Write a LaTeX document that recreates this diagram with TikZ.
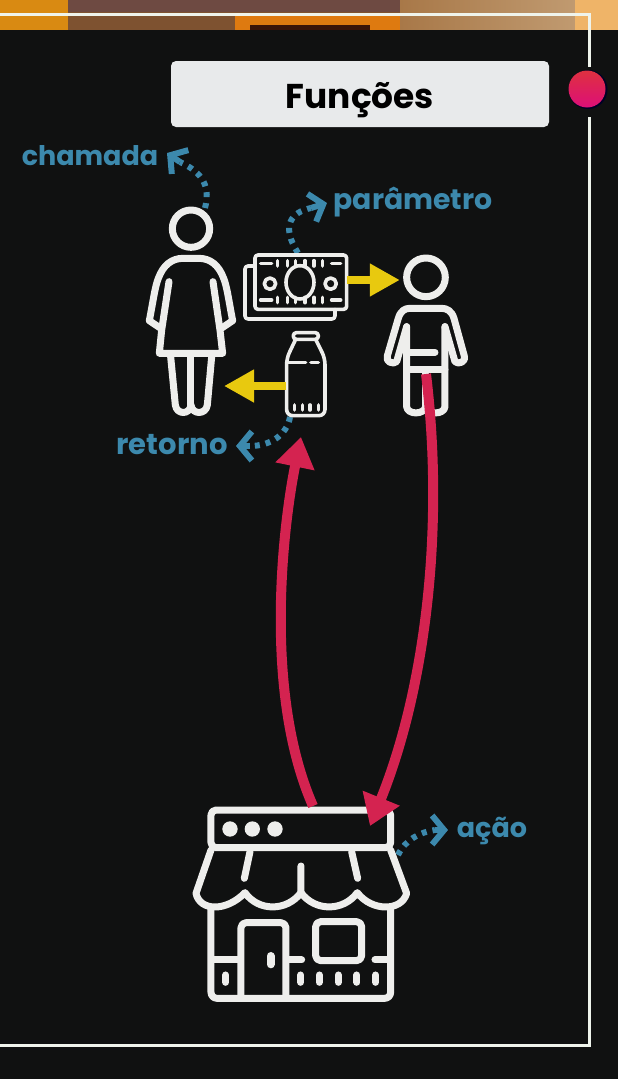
\documentclass[tikz,border=0pt]{standalone}
\usepackage{fontspec}
\setmainfont{Poppins}
\usetikzlibrary{arrows.meta}
\definecolor{bgk}{HTML}{101111}
\definecolor{iconw}{HTML}{EEEEEC}
\definecolor{framew}{HTML}{EFF4EC}
\definecolor{teal}{HTML}{3C89AD}
\definecolor{yel}{HTML}{E8C90F}
\definecolor{crim}{HTML}{D42350}
\definecolor{boxw}{HTML}{E8EAEB}
\definecolor{redtop}{HTML}{DF3040}
\definecolor{redbot}{HTML}{DC0F78}
\definecolor{stripA}{HTML}{D98A12}
\definecolor{stripB}{HTML}{7E5230}
\definecolor{stripC}{HTML}{6E4A42}
\definecolor{stripD}{HTML}{DE7A10}
\definecolor{stripE}{HTML}{3A1408}
\definecolor{stripF}{HTML}{A87848}
\definecolor{stripG}{HTML}{C09A70}
\definecolor{stripH}{HTML}{EFB468}
\tikzset{
 iconthick/.style={draw=iconw,line width=7pt,line cap=round,line join=round},
 iconthin/.style={draw=iconw,line width=3.6pt,line cap=round,line join=round},
 lbl/.style={text=teal,font=\fontsize{#1}{30}\selectfont\bfseries,inner sep=0pt},
 tealdots/.style={draw=teal,line width=6pt,dash pattern=on 5pt off 6pt},
 tealhead/.style={draw=teal,line width=6pt,-{Straight Barb[length=12pt,width=29pt,line width=6pt]}},
 yelarrow/.style={draw=yel,line width=8pt,-{Triangle[length=30pt,width=31pt]}},
 redarrow/.style={draw=crim,line width=10pt,-{Triangle[length=30pt,width=38pt]}},
}
\begin{document}
\begin{tikzpicture}[x=1pt,y=-1pt]
\useasboundingbox (0,0) rectangle (618,1079);
% backdrop
\fill[bgk] (0,0) rectangle (618,1079);
\fill[stripA] (0,0) rectangle (68,30);
\fill[stripB] (68,12) rectangle (235,30);
\fill[stripC] (68,0) rectangle (400,12);
\fill[stripB] (235,12) rectangle (400,16);
\fill[stripD] (235,16) rectangle (400,30);
\fill[stripE] (250,25) rectangle (370,30);
\fill[left color=stripF,right color=stripG] (400,0) rectangle (575,30);
\fill[stripH] (575,0) rectangle (618,30);
\fill[bgk] (0,30) rectangle (616,1079);
% frame
\draw[framew,line width=3pt] (0,14) -- (589,14) -- (589,67);
\draw[framew,line width=3pt] (589,117) -- (589,1045) -- (0,1045);
% title
\node[fill=boxw,rounded corners=5pt,minimum width=378pt,minimum height=66pt,inner sep=0pt] (title) at (360,94) {};
\node[anchor=base,inner sep=0pt,text=black,font=\fontsize{34.4}{38}\selectfont\bfseries] (titletext) at (360,108) {Funções};
\fill[black!85!blue] (588,89.5) circle[radius=19.5];
\node[circle,minimum size=37pt,inner sep=0pt,top color=redtop,bottom color=redbot] (dot) at (587,89) {};
% anchors
\node[inner sep=0pt,minimum size=44pt] (womanhead) at (191,229) {};
\node[inner sep=0pt,minimum width=92pt,minimum height=54pt] (money) at (301,280) {};
\node[inner sep=0pt,minimum width=39pt,minimum height=84pt] (bottle) at (306,374) {};
\node[inner sep=0pt,minimum width=52pt,minimum height=52pt] (kidhead) at (426,280) {};
\node[inner sep=0pt,minimum width=188pt,minimum height=196pt] (shop) at (301,904) {};
\coordinate (kidfeet) at (426,374);
\coordinate (womanside) at (224,386);
\coordinate (bottleside) at (286,386);
\coordinate (shopfoot) at (313,806);
\coordinate (bottletip) at (301,437);
\coordinate (shoptip) at (370,826);
\coordinate (chamadastart) at (205,208);
\coordinate (chamadaneck) at (180,162);
\coordinate (chamadatip) at (167,153);
\coordinate (paramstart) at (298,253);
\coordinate (paramneck) at (311,208);
\coordinate (paramtip) at (327,203);
\coordinate (retornostart) at (290,417);
\coordinate (retornoneck) at (250,446);
\coordinate (retornotip) at (236,446);
\coordinate (acaostart) at (398,855);
\coordinate (acaoneck) at (435,830);
\coordinate (acaotip) at (448,830);
% teal connectors
\draw[tealdots] (chamadastart) .. controls (212,182) and (197,170) .. (chamadaneck);
\draw[tealhead] (chamadaneck) -- (chamadatip);
\draw[tealdots] (paramstart) .. controls (280,225) and (292,212) .. (paramneck);
\draw[tealhead] (paramneck) -- (paramtip);
\draw[tealdots] (retornostart) .. controls (287,435) and (270,446) .. (retornoneck);
\draw[tealhead] (retornoneck) -- (retornotip);
\draw[tealdots] (acaostart) .. controls (405,840) and (420,832) .. (acaoneck);
\draw[tealhead] (acaoneck) -- (acaotip);
% woman
\begin{scope}[shift={(130,190)},x=0.3333pt,y=-0.3333pt]
\draw[iconthick] (183,116) circle[radius=56];
\draw[iconthick] (92,415) -- (58,392) .. controls (70,330) and (75,290) .. (85,265) .. controls (100,225) and (125,205) .. (160,205) -- (206,205) .. controls (241,205) and (266,225) .. (281,265) .. controls (291,290) and (296,330) .. (308,392) -- (274,415);
\draw[iconthick] (117,275) -- (95,420) -- (88,490) -- (278,490) -- (270,420) -- (249,275);
\draw[iconthick] (122,500) -- (136,645) .. controls (140,675) and (180,675) .. (183,645) .. controls (186,675) and (228,675) .. (232,645) -- (245,500);
\draw[iconthick] (183,500) -- (183,645);
\end{scope}
% kid
\begin{scope}[shift={(130,190)},x=0.3333pt,y=-0.3333pt]
\draw[iconthick] (888,262) circle[radius=58];
\draw[iconthick] (830,410) -- (800,515) .. controls (790,525) and (765,515) .. (772,498) -- (805,385) .. controls (812,362) and (825,355) .. (840,355) -- (935,355) .. controls (950,355) and (965,362) .. (972,385) -- (1003,498) .. controls (1010,515) and (985,525) .. (975,515) -- (945,410);
\draw[iconthick] (830,410) -- (830,650) .. controls (832,675) and (883,675) .. (887,650) .. controls (892,675) and (943,675) .. (945,650) -- (945,410);
\draw[iconthick] (830,540) -- (945,540);
\draw[iconthick] (840,487) -- (915,487);
\draw[iconthick] (887,545) -- (887,650);
\end{scope}
% money
\begin{scope}[shift={(130,190)},x=0.3333pt,y=-0.3333pt]
\draw[iconthin,rounded corners=3pt] (375,195) rectangle (650,358);
\draw[iconthin,rounded corners=3pt] (375,228) -- (345,228) -- (345,387) -- (615,387) -- (615,358);
\draw[iconthin] (510,277) ellipse[x radius=42,y radius=50];
\draw[iconthin] (420,281) circle[radius=17];
\draw[iconthin] (602,281) circle[radius=17];
\foreach \yy/\ya/\yb in {220/212/228,330/322/338}{
 \draw[iconthin] (392,\yy) -- (425,\yy) (605,\yy) -- (632,\yy);
 \foreach \xx in {443,472,497,525,552,578}{\draw[iconthin] (\xx,\ya) -- (\xx,\yb);}
}
\end{scope}
% bottle
\begin{scope}[shift={(130,190)},x=0.3333pt,y=-0.3333pt]
\draw[iconthin,rounded corners=3pt] (490,428) rectangle (565,448);
\draw[iconthin,rounded corners=6pt] (497,448) -- (470,505) -- (470,677) -- (585,677) -- (585,505) -- (557,448);
\draw[iconthin] (475,518) -- (527,518) (543,518) -- (565,518);
\foreach \xx in {493,517,540,565}{\draw[iconthin] (\xx,645) -- (\xx,660);}
\end{scope}
% shop
\begin{scope}[shift={(180,780)},x=0.3333pt,y=-0.3333pt]
\draw[iconthick,rounded corners=5pt] (93,90) rectangle (632,203);
\foreach \xx in {150,217,285}{\fill[iconw] (\xx,147) circle[radius=23];}
\draw[iconthick] (93,210) -- (48,340) .. controls (60,395) and (140,395) .. (195,338) .. controls (235,395) and (320,395) .. (363,338) .. controls (405,395) and (490,395) .. (532,338) .. controls (575,395) and (665,395) .. (680,340) -- (632,210);
\draw[iconthick] (210,215) -- (193,295) (515,215) -- (533,295) (363,258) -- (363,335);
\draw[iconthick,rounded corners=6pt] (93,385) -- (93,655) -- (632,655) -- (632,385);
\draw[iconthick,rounded corners=5pt] (183,650) -- (183,428) -- (318,428) -- (318,650);
\draw[iconthick,rounded corners=5pt] (407,425) rectangle (545,542);
\draw[iconthick] (100,540) -- (180,540) (320,540) -- (365,540) (585,540) -- (625,540);
\draw[draw=iconw,line width=8pt,line cap=round] (272,528) -- (272,553);
\foreach \xx in {137,362,418,475,531,587}{\draw[draw=iconw,line width=7pt,line cap=round] (\xx,585) -- (\xx,607);}
\end{scope}
% yellow connectors
\draw[yelarrow] (money.east) -- (kidhead.west);
\draw[yelarrow] (bottleside) -- (womanside);
% red connectors
\draw[redarrow] (shopfoot) .. controls (262,690) and (284,520) .. (bottletip);
\draw[redarrow] (kidfeet) .. controls (445,530) and (425,690) .. (shoptip);
% labels
\node[lbl=27] (chamada) at (90,156) {chamada};
\node[lbl=28.3] (parametro) at (413,202) {parâmetro};
\node[lbl=29] (retorno) at (172,445) {retorno};
\node[lbl=27] (acao) at (492,831) {ação};
\end{tikzpicture}
\end{document}
